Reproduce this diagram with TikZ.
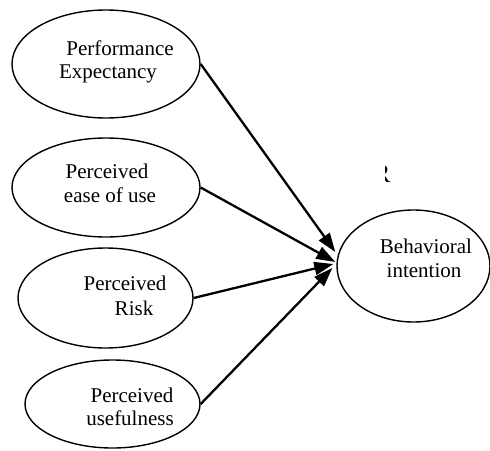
\documentclass[tikz,border=0pt]{standalone}
\usepackage{fontspec}
\setmainfont{Liberation Serif}
\usetikzlibrary{shapes.geometric,arrows.meta,calc}
\tikzset{
  oval/.style={draw, ellipse, line width=1.4pt, inner sep=0pt},
  lbl/.style={anchor=base, inner sep=0pt, font=\fontsize{21}{24}\selectfont},
  conn/.style={line width=2.3pt, -{Triangle[length=19pt,width=13pt]}},
}
\begin{document}
\begin{tikzpicture}[x=1pt,y=-1pt]
\useasboundingbox (0,0) rectangle (490,450);
\node[oval, minimum width=188pt, minimum height=108pt] (e1) at (106,64) {};
\node[oval, minimum width=188pt, minimum height=99pt] (e2) at (106,187.5) {};
\node[oval, minimum width=175pt, minimum height=100pt] (e3) at (105.5,298) {};
\node[oval, minimum width=175pt, minimum height=88pt] (e4) at (112.5,404) {};
\node[oval, minimum width=153pt, minimum height=112pt] (b) at (413.5,266) {};

\node[lbl] (t1a) at (120,55) {Performance};
\node[lbl] (t1b) at (108,78) {Expectancy};
\node[lbl] (t2a) at (107,178) {Perceived};
\node[lbl] (t2b) at (110,202) {ease of use};
\node[lbl] (t3a) at (125,290) {Perceived};
\node[lbl] (t3b) at (134,315) {Risk};
\node[lbl] (t4a) at (132,402) {Perceived};
\node[lbl] (t4b) at (130,425) {usefulness};
\node[lbl] (tba) at (426,253) {Behavioral};
\node[lbl] (tbb) at (424,277) {intention};

\begin{scope}
\clip (385.5,160) rectangle (396,186);
\node[anchor=base west, inner sep=0pt, font=\fontsize{26}{28}\selectfont] (frag) at (373,182) {R};
\end{scope}

\coordinate (p1) at ($(b.west)+(-1,-14)$);
\coordinate (p2) at ($(b.west)+(-1,-4)$);
\coordinate (p3) at ($(b.west)+(-3,-2)$);
\coordinate (p4) at ($(b.west)+(-4,2)$);
\draw[conn] (e1.east) -- (p1);
\draw[conn] (e2.east) -- (p2);
\draw[conn] (e3.east) -- (p3);
\draw[conn] (e4.east) -- (p4);
\end{tikzpicture}
\end{document}
